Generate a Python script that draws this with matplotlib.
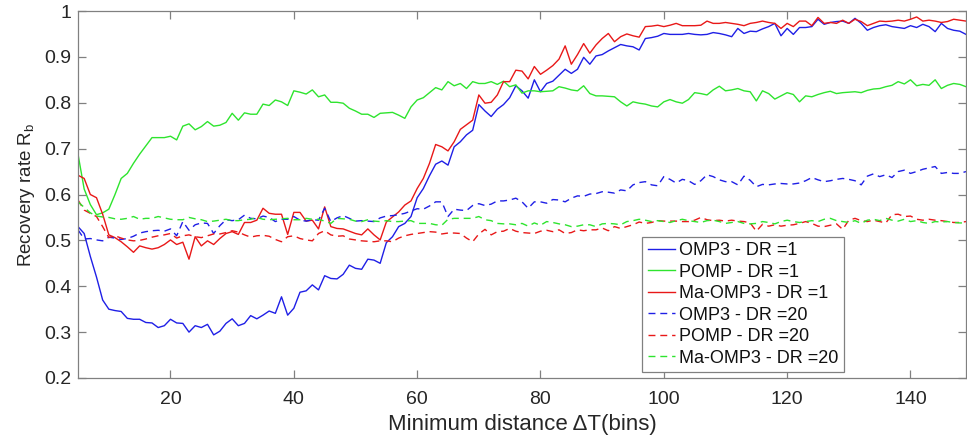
import matplotlib
matplotlib.use("Agg")
from matplotlib import pyplot as plt
import numpy as np

plt.rcParams["font.family"] = ["Liberation Sans", "DejaVu Sans"]

x_bins = np.arange(5, 150)

omp3_dr1 = [
    0.530, 0.515, 0.465, 0.420, 0.370, 0.350, 0.347, 0.345, 0.330, 0.328,
    0.328, 0.321, 0.320, 0.310, 0.314, 0.328, 0.320, 0.319, 0.300, 0.314,
    0.310, 0.317, 0.294, 0.302, 0.319, 0.329, 0.314, 0.319, 0.336, 0.329,
    0.337, 0.346, 0.341, 0.377, 0.337, 0.352, 0.387, 0.390, 0.403, 0.392,
    0.423, 0.417, 0.416, 0.426, 0.446, 0.439, 0.437, 0.459, 0.457, 0.450,
    0.495, 0.508, 0.530, 0.537, 0.552, 0.593, 0.613, 0.641, 0.666, 0.673,
    0.664, 0.704, 0.715, 0.730, 0.740, 0.796, 0.782, 0.770, 0.786, 0.796,
    0.811, 0.837, 0.826, 0.810, 0.850, 0.824, 0.842, 0.847, 0.860, 0.873,
    0.864, 0.873, 0.899, 0.884, 0.902, 0.905, 0.913, 0.920, 0.927, 0.924,
    0.922, 0.915, 0.940, 0.942, 0.945, 0.951, 0.949, 0.949, 0.949, 0.951,
    0.949, 0.948, 0.949, 0.953, 0.951, 0.948, 0.944, 0.962, 0.951, 0.956,
    0.955, 0.961, 0.966, 0.973, 0.946, 0.962, 0.949, 0.964, 0.964, 0.966,
    0.982, 0.971, 0.975, 0.977, 0.978, 0.973, 0.984, 0.973, 0.958, 0.964,
    0.968, 0.970, 0.966, 0.964, 0.962, 0.968, 0.964, 0.971, 0.966, 0.955,
    0.973, 0.962, 0.958, 0.956, 0.949,
]

pomp_dr1 = [
    0.688, 0.612, 0.578, 0.556, 0.560, 0.568, 0.600, 0.635, 0.646, 0.668,
    0.688, 0.706, 0.724, 0.724, 0.724, 0.727, 0.719, 0.749, 0.754, 0.741,
    0.748, 0.759, 0.749, 0.751, 0.757, 0.777, 0.762, 0.778, 0.775, 0.775,
    0.797, 0.794, 0.806, 0.802, 0.794, 0.826, 0.823, 0.819, 0.828, 0.813,
    0.817, 0.801, 0.801, 0.799, 0.788, 0.782, 0.775, 0.775, 0.768, 0.777,
    0.778, 0.779, 0.773, 0.766, 0.791, 0.806, 0.811, 0.822, 0.833, 0.828,
    0.846, 0.837, 0.842, 0.831, 0.846, 0.842, 0.842, 0.846, 0.840, 0.847,
    0.835, 0.839, 0.821, 0.826, 0.826, 0.824, 0.825, 0.826, 0.835, 0.832,
    0.828, 0.826, 0.837, 0.820, 0.815, 0.815, 0.814, 0.813, 0.802, 0.793,
    0.802, 0.799, 0.797, 0.793, 0.791, 0.802, 0.807, 0.802, 0.799, 0.807,
    0.822, 0.820, 0.817, 0.828, 0.836, 0.826, 0.828, 0.831, 0.826, 0.824,
    0.804, 0.826, 0.820, 0.808, 0.815, 0.822, 0.818, 0.802, 0.815, 0.813,
    0.818, 0.822, 0.825, 0.820, 0.822, 0.823, 0.824, 0.822, 0.827, 0.830,
    0.831, 0.835, 0.838, 0.846, 0.841, 0.850, 0.837, 0.840, 0.838, 0.850,
    0.831, 0.838, 0.842, 0.840, 0.835,
]

maomp3_dr1 = [
    0.642, 0.635, 0.600, 0.593, 0.557, 0.512, 0.506, 0.497, 0.486, 0.474,
    0.488, 0.484, 0.481, 0.484, 0.491, 0.501, 0.491, 0.496, 0.459, 0.508,
    0.488, 0.499, 0.491, 0.504, 0.515, 0.519, 0.513, 0.539, 0.539, 0.544,
    0.570, 0.559, 0.557, 0.557, 0.513, 0.561, 0.561, 0.542, 0.544, 0.525,
    0.573, 0.530, 0.526, 0.525, 0.520, 0.515, 0.512, 0.525, 0.512, 0.501,
    0.540, 0.551, 0.562, 0.577, 0.586, 0.613, 0.635, 0.668, 0.709, 0.704,
    0.695, 0.715, 0.742, 0.752, 0.762, 0.817, 0.799, 0.801, 0.817, 0.846,
    0.846, 0.871, 0.869, 0.852, 0.879, 0.862, 0.871, 0.881, 0.895, 0.924,
    0.884, 0.905, 0.929, 0.908, 0.926, 0.940, 0.951, 0.933, 0.944, 0.950,
    0.946, 0.943, 0.966, 0.967, 0.969, 0.966, 0.969, 0.973, 0.968, 0.968,
    0.968, 0.969, 0.978, 0.973, 0.973, 0.975, 0.973, 0.971, 0.968, 0.973,
    0.975, 0.978, 0.975, 0.973, 0.962, 0.973, 0.966, 0.978, 0.978, 0.968,
    0.986, 0.973, 0.975, 0.973, 0.980, 0.973, 0.982, 0.977, 0.968, 0.973,
    0.978, 0.977, 0.978, 0.980, 0.978, 0.982, 0.987, 0.978, 0.980, 0.978,
    0.975, 0.977, 0.982, 0.980, 0.978,
]

omp3_dr20 = [
    0.523, 0.503, 0.504, 0.501, 0.499, 0.507, 0.505, 0.502, 0.504, 0.509,
    0.516, 0.519, 0.521, 0.522, 0.520, 0.525, 0.510, 0.541, 0.522, 0.534,
    0.538, 0.537, 0.515, 0.532, 0.545, 0.543, 0.545, 0.555, 0.548, 0.547,
    0.553, 0.550, 0.541, 0.546, 0.546, 0.552, 0.544, 0.542, 0.545, 0.544,
    0.570, 0.541, 0.549, 0.554, 0.548, 0.542, 0.543, 0.542, 0.541, 0.549,
    0.553, 0.554, 0.556, 0.559, 0.564, 0.569, 0.568, 0.575, 0.584, 0.584,
    0.552, 0.568, 0.566, 0.565, 0.576, 0.580, 0.576, 0.579, 0.586, 0.586,
    0.588, 0.592, 0.584, 0.570, 0.584, 0.584, 0.581, 0.589, 0.588, 0.584,
    0.592, 0.597, 0.596, 0.601, 0.602, 0.606, 0.605, 0.603, 0.610, 0.608,
    0.621, 0.626, 0.628, 0.621, 0.619, 0.639, 0.633, 0.625, 0.633, 0.630,
    0.622, 0.630, 0.643, 0.639, 0.632, 0.628, 0.628, 0.621, 0.640, 0.631,
    0.617, 0.622, 0.621, 0.623, 0.624, 0.623, 0.623, 0.625, 0.630, 0.637,
    0.632, 0.628, 0.630, 0.633, 0.635, 0.633, 0.630, 0.621, 0.640, 0.645,
    0.639, 0.643, 0.637, 0.650, 0.653, 0.646, 0.650, 0.655, 0.658, 0.661,
    0.646, 0.648, 0.646, 0.646, 0.650,
]

pomp_dr20 = [
    0.588, 0.566, 0.559, 0.552, 0.530, 0.506, 0.510, 0.505, 0.501, 0.499,
    0.500, 0.503, 0.507, 0.510, 0.512, 0.515, 0.505, 0.510, 0.512, 0.508,
    0.506, 0.510, 0.514, 0.514, 0.517, 0.521, 0.518, 0.512, 0.507, 0.510,
    0.511, 0.509, 0.502, 0.497, 0.508, 0.510, 0.504, 0.501, 0.499, 0.515,
    0.521, 0.512, 0.509, 0.510, 0.503, 0.501, 0.499, 0.498, 0.497, 0.499,
    0.499, 0.497, 0.505, 0.510, 0.513, 0.515, 0.517, 0.519, 0.518, 0.514,
    0.516, 0.516, 0.515, 0.505, 0.497, 0.514, 0.524, 0.512, 0.519, 0.520,
    0.526, 0.520, 0.517, 0.516, 0.515, 0.520, 0.522, 0.519, 0.523, 0.515,
    0.517, 0.523, 0.521, 0.523, 0.523, 0.527, 0.521, 0.530, 0.526, 0.530,
    0.534, 0.540, 0.537, 0.539, 0.543, 0.542, 0.542, 0.542, 0.541, 0.541,
    0.544, 0.550, 0.545, 0.543, 0.544, 0.542, 0.544, 0.542, 0.541, 0.538,
    0.520, 0.535, 0.531, 0.534, 0.531, 0.533, 0.534, 0.537, 0.541, 0.537,
    0.531, 0.530, 0.533, 0.536, 0.524, 0.544, 0.548, 0.543, 0.541, 0.544,
    0.541, 0.538, 0.556, 0.557, 0.552, 0.553, 0.546, 0.544, 0.546, 0.544,
    0.543, 0.541, 0.539, 0.539, 0.541,
]

maomp3_dr20 = [
    0.584, 0.572, 0.560, 0.553, 0.551, 0.550, 0.547, 0.546, 0.548, 0.552,
    0.546, 0.548, 0.548, 0.552, 0.549, 0.546, 0.545, 0.545, 0.550, 0.547,
    0.545, 0.541, 0.542, 0.544, 0.546, 0.543, 0.543, 0.545, 0.546, 0.550,
    0.546, 0.545, 0.546, 0.547, 0.548, 0.545, 0.545, 0.548, 0.546, 0.546,
    0.542, 0.537, 0.548, 0.547, 0.546, 0.542, 0.541, 0.545, 0.542, 0.541,
    0.543, 0.541, 0.541, 0.542, 0.543, 0.537, 0.537, 0.537, 0.534, 0.533,
    0.546, 0.548, 0.548, 0.548, 0.548, 0.552, 0.545, 0.543, 0.537, 0.536,
    0.536, 0.534, 0.537, 0.531, 0.538, 0.533, 0.541, 0.539, 0.536, 0.534,
    0.530, 0.531, 0.534, 0.534, 0.530, 0.536, 0.537, 0.536, 0.534, 0.541,
    0.543, 0.546, 0.544, 0.541, 0.543, 0.541, 0.539, 0.543, 0.546, 0.543,
    0.541, 0.539, 0.543, 0.544, 0.541, 0.537, 0.539, 0.541, 0.537, 0.536,
    0.537, 0.541, 0.539, 0.536, 0.541, 0.544, 0.541, 0.539, 0.541, 0.543,
    0.541, 0.546, 0.548, 0.543, 0.541, 0.539, 0.543, 0.537, 0.544, 0.546,
    0.543, 0.548, 0.544, 0.542, 0.546, 0.541, 0.543, 0.539, 0.537, 0.541,
    0.540, 0.541, 0.539, 0.538, 0.538,
]

labels = ["OMP3 - DR =1", "POMP - DR =1", "Ma-OMP3 - DR =1",
          "OMP3 - DR =20", "POMP - DR =20", "Ma-OMP3 - DR =20"]

blue, green, red = "#1f1fe6", "#2ee42e", "#e81818"

fig = plt.figure(figsize=(9.67, 4.43), dpi=100)
ax = fig.add_axes([78 / 967, 65 / 443, 888 / 967, 367 / 443])

dash = (5, 3.5)
ax.plot(x_bins, omp3_dr1, color=blue, lw=1.0, label=labels[0])
ax.plot(x_bins, pomp_dr1, color=green, lw=1.0, label=labels[1])
ax.plot(x_bins, maomp3_dr1, color=red, lw=1.0, label=labels[2])
ax.plot(x_bins, omp3_dr20, color=blue, lw=1.0, ls="--", dashes=dash, label=labels[3])
ax.plot(x_bins, pomp_dr20, color=red, lw=1.0, ls="--", dashes=dash, label=labels[4])
ax.plot(x_bins, maomp3_dr20, color=green, lw=1.0, ls="--", dashes=dash, label=labels[5])

ax.set_xlim(5, 149)
ax.set_ylim(0.2, 1.0)
ax.set_xticks([20, 40, 60, 80, 100, 120, 140])
ax.set_yticks([0.2, 0.3, 0.4, 0.5, 0.6, 0.7, 0.8, 0.9, 1.0])
ax.set_yticklabels(["0.2", "0.3", "0.4", "0.5", "0.6", "0.7", "0.8", "0.9", "1"])

for s in ax.spines.values():
    s.set_color("#808080")
    s.set_linewidth(0.9)
ax.tick_params(direction="in", length=6, width=0.9, color="#808080",
               top=True, right=True, labelsize=14, labelcolor="#262626")
ax.tick_params(axis="x", pad=9)
ax.tick_params(axis="y", pad=5)

ax.set_xlabel("Minimum distance ΔT(bins)", fontsize=16, color="#262626", labelpad=5)
ax.set_ylabel(r"Recovery rate R$_\mathregular{b}$", fontsize=13.5, color="#262626", labelpad=5)

leg = ax.legend(loc="lower right", bbox_to_anchor=(0.8625, 0.016), fontsize=13,
                frameon=True, fancybox=False, framealpha=1, edgecolor="#808080",
                handlelength=1.55, handletextpad=0.2, labelspacing=0.25,
                borderpad=0.3, borderaxespad=0)
leg.get_frame().set_linewidth(0.9)
for t in leg.get_texts():
    t.set_color("#111111")

fig.savefig("out.png", dpi=100)
